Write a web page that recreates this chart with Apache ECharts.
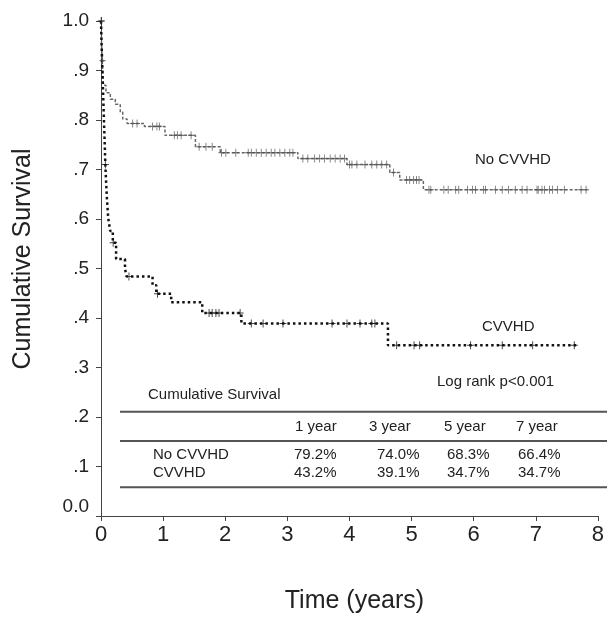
<!DOCTYPE html>
<html>
<head>
<meta charset="utf-8">
<script src="https://cdn.jsdelivr.net/npm/echarts@6/dist/echarts.min.js"></script>
<style>
html,body{margin:0;padding:0;background:#fff;}
#chart{width:607px;height:619px;}
</style>
</head>
<body>
<div id="chart"></div>
<script>
// ---- Data ----
var xTicks = [0,1,2,3,4,5,6,7,8];
var yTickLabels = ['0.0','.1','.2','.3','.4','.5','.6','.7','.8','.9','1.0'];

// Kaplan-Meier step points: time (years) and survival after the step
var noCvvhdTimes = [0, 0.01, 0.02, 0.03, 0.04, 0.08, 0.15, 0.23, 0.31, 0.35, 0.42, 0.70, 1.03, 1.52, 1.92, 3.17, 3.96, 4.65, 4.81, 5.19, 7.83];
var noCvvhdSurv  = [1.0, 0.95, 0.92, 0.89, 0.87, 0.855, 0.842, 0.832, 0.816, 0.802, 0.793, 0.787, 0.769, 0.746, 0.734, 0.722, 0.71, 0.694, 0.679, 0.659, 0.659];

var cvvhdTimes = [0, 0.01, 0.02, 0.03, 0.04, 0.05, 0.06, 0.07, 0.08, 0.095, 0.116, 0.148, 0.19, 0.243, 0.386, 0.413, 0.83, 0.89, 1.13, 1.63, 2.26, 4.62, 7.65];
var cvvhdSurv  = [1.0, 0.95, 0.91, 0.87, 0.83, 0.79, 0.75, 0.71, 0.68, 0.642, 0.602, 0.576, 0.552, 0.519, 0.499, 0.484, 0.466, 0.449, 0.432, 0.41, 0.389, 0.345, 0.345];

// Censoring times
var noCvvhdCensor = [0.005, 0.025, 0.51, 0.58, 0.83, 0.90, 0.94, 1.18, 1.23, 1.29, 1.45, 1.58, 1.69, 1.79, 1.94, 2.01, 2.17, 2.37, 2.42, 2.50, 2.58, 2.66, 2.74, 2.80, 2.88, 2.96, 3.04, 3.09, 3.25, 3.33, 3.44, 3.52, 3.60, 3.69, 3.77, 3.85, 3.92, 4.00, 4.04, 4.12, 4.25, 4.36, 4.44, 4.52, 4.60, 4.71, 4.92, 4.97, 5.03, 5.08, 5.12, 5.28, 5.31, 5.52, 5.59, 5.71, 5.76, 5.90, 5.98, 6.03, 6.16, 6.19, 6.35, 6.46, 6.56, 6.67, 6.78, 6.86, 7.02, 7.04, 7.10, 7.14, 7.22, 7.27, 7.35, 7.46, 7.73, 7.81];
var cvvhdCensor = [0.005, 0.07, 0.196, 0.45, 0.91, 1.74, 1.79, 1.85, 1.90, 2.24, 2.42, 2.61, 2.93, 3.72, 3.96, 4.17, 4.36, 4.41, 4.76, 5.04, 5.13, 5.95, 6.46, 6.95, 7.62];

// Table
var tableTitle = 'Cumulative Survival';
var tableColumns = ['1 year','3 year','5 year','7 year'];
var tableRows = ['No CVVHD','CVVHD'];
var tableValues = [['79.2%','74.0%','68.3%','66.4%'],['43.2%','39.1%','34.7%','34.7%']];
var groupLabels = ['No CVVHD','CVVHD'];
var testLabel = 'Log rank p<0.001';

// ---- Build ----
function pairs(t, s){ return t.map(function(v,i){ return [v, s[i]]; }); }
function survAt(t, times, surv){
  var v = surv[0];
  for (var i=0;i<times.length;i++){ if (times[i] <= t) v = surv[i]; }
  return v;
}
function censorPts(c, times, surv){ return c.map(function(t){ return [t, survAt(t, times, surv)]; }); }

var FONT = '"Liberation Sans", Arial, Helvetica, sans-serif';
var TXT = '#222';
var plus = 'path://M0,5L10,5M5,0L5,10';

var chart = echarts.init(document.getElementById('chart'), null, {renderer:'canvas'});

var colX = [295, 369, 444, 516];
var valX = [294, 377, 447, 518];
var graphics = [];
[411.7, 441, 487.3].forEach(function(y){
  graphics.push({type:'line', shape:{x1:120,y1:y,x2:607,y2:y}, style:{stroke:'#555', lineWidth:2}, silent:true});
});
function txt(s, x, y, size){
  return {type:'text', x:x, y:y, style:{text:s, fill:TXT, font:size+'px '+FONT, textVerticalAlign:'middle', textAlign:'left'}, silent:true};
}
graphics.push(txt(tableTitle, 148, 395, 15));
tableColumns.forEach(function(c,i){ graphics.push(txt(c, colX[i], 427, 15)); });
var rowY = [455, 473.3];
tableRows.forEach(function(r,j){
  graphics.push(txt(r, 153, rowY[j], 15));
  tableValues[j].forEach(function(v,i){ graphics.push(txt(v, valX[i], rowY[j], 15)); });
});
graphics.push(txt(groupLabels[0], 475, 160, 15));
graphics.push(txt(groupLabels[1], 482, 327, 15));
graphics.push(txt(testLabel, 437, 382, 15));

var option = {
  animation:false,
  backgroundColor:'#fff',
  grid:{left:101, right:3, top:21, bottom:98, containLabel:false},
  xAxis:{
    type:'value', min:0, max:8, interval:1,
    name:'Time (years)', nameLocation:'middle', nameGap:73,
    nameTextStyle:{fontFamily:FONT, fontSize:25, color:TXT, padding:[0,0,0,10]},
    axisLine:{lineStyle:{color:'#444', width:1}},
    axisTick:{show:true, inside:false, length:5, lineStyle:{color:'#444'}},
    axisLabel:{fontFamily:FONT, fontSize:22, color:TXT, margin:8,
      formatter:function(v){ return String(xTicks[Math.round(v)]); }},
    splitLine:{show:false}
  },
  yAxis:{
    type:'value', min:0, max:1, interval:0.1,
    name:'Cumulative Survival', nameLocation:'middle', nameGap:65, nameRotate:90,
    nameTextStyle:{fontFamily:FONT, fontSize:25, color:TXT, padding:[0,0,0,19]},
    axisLine:{show:true, lineStyle:{color:'#444', width:1}},
    axisTick:{show:true, inside:false, length:5, lineStyle:{color:'#444'}},
    axisLabel:{fontFamily:FONT, fontSize:19, color:TXT, margin:12,
      formatter:function(v){
        var s = yTickLabels[Math.round(v*10)];
        return v === 0 ? '{z|'+s+'}' : s;
      },
      rich:{z:{fontFamily:FONT, fontSize:19, color:TXT, padding:[0,0,19,0]}}
    },
    splitLine:{show:false}
  },
  series:[
    {type:'line', name:'No CVVHD', step:'end', showSymbol:false, symbol:'none',
     data:pairs(noCvvhdTimes, noCvvhdSurv),
     lineStyle:{color:'#666', width:1.5, type:[3,2]}, z:3},
    {type:'line', name:'CVVHD', step:'end', showSymbol:false, symbol:'none',
     data:pairs(cvvhdTimes, cvvhdSurv),
     lineStyle:{color:'#111', width:2.5, type:[2.5,3], cap:'butt'}, z:4},
    {type:'scatter', name:'No CVVHD censored', symbol:plus, symbolSize:[6,8],
     data:censorPts(noCvvhdCensor, noCvvhdTimes, noCvvhdSurv),
     itemStyle:{color:'none', borderColor:'#555', borderWidth:1}, z:5, silent:true},
    {type:'scatter', name:'CVVHD censored', symbol:plus, symbolSize:[7,8],
     data:censorPts(cvvhdCensor, cvvhdTimes, cvvhdSurv),
     itemStyle:{color:'none', borderColor:'#111', borderWidth:1}, z:6, silent:true}
  ],
  graphic:graphics
};
chart.setOption(option);
</script>
</body>
</html>
